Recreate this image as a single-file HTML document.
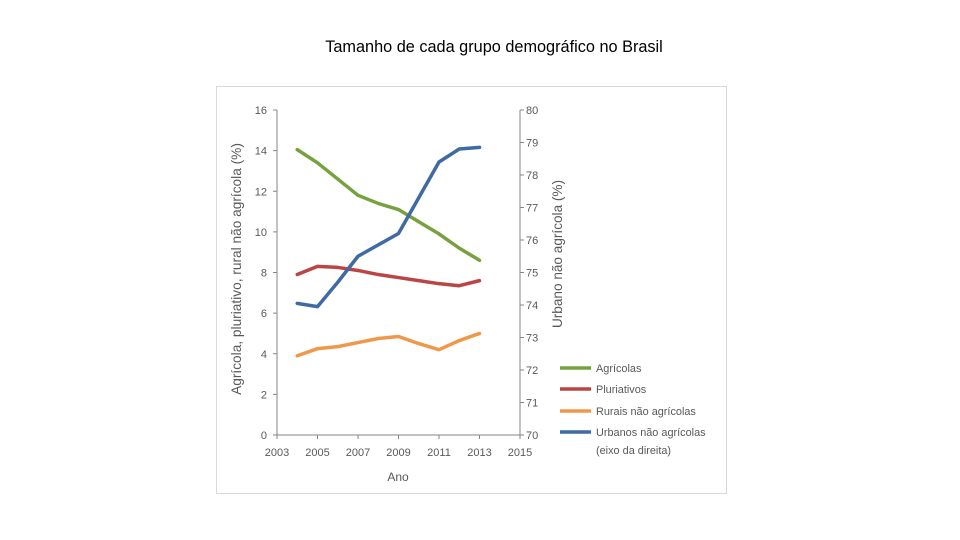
<!DOCTYPE html>
<html><head><meta charset="utf-8"><style>
body{margin:0;background:#fff;font-family:"Liberation Sans",sans-serif;}
#wrap{position:relative;width:960px;height:540px;}
#title{position:absolute;left:0;width:988px;top:38px;text-align:center;font-size:16.3px;color:#000;}
</style></head><body>
<div id="wrap">
<div id="title">Tamanho de cada grupo demográfico no Brasil</div>
<svg id="chart" width="960" height="540" style="position:absolute;left:0;top:0">
<rect x="216.5" y="86.5" width="510" height="407" fill="none" stroke="#d9d9d9"/>
<g id="g"></g>
</svg>
</div>
<script>
const years=[2004,2005,2006,2007,2008,2009,2010,2011,2012,2013];
const agricolas=[14.05,13.4,12.6,11.8,11.4,11.1,10.5,9.9,9.2,8.6];
const pluriativos=[7.9,8.3,8.25,8.1,7.9,7.75,7.6,7.45,7.35,7.6];
const rurais=[3.9,4.25,4.35,4.55,4.75,4.85,4.5,4.2,4.65,5.0];
const urbanos=[74.05,73.95,74.7,75.5,75.85,76.2,77.3,78.4,78.8,78.85];
const xTicks=[2003,2005,2007,2009,2011,2013,2015];
const yLeftTicks=[0,2,4,6,8,10,12,14,16];
const yRightTicks=[70,71,72,73,74,75,76,77,78,79,80];
const legendLabels=["Agrícolas","Pluriativos","Rurais não agrícolas","Urbanos não agrícolas"];

const X0=277,X1=520,Y0=435,Y1=110;
const x=v=>X0+(v-2003)/(2015-2003)*(X1-X0);
const yl=v=>Y0-v/16*(Y0-Y1);
const yr=v=>Y0-(v-70)/10*(Y0-Y1);
const g=document.getElementById('g');
const NS='http://www.w3.org/2000/svg';
function mk(t,a,txt){const e=document.createElementNS(NS,t);for(const k in a)e.setAttribute(k,a[k]);if(txt!==undefined)e.textContent=txt;g.appendChild(e);return e;}
const tc='#595959',ac='#868686';
let e;
e=mk('line',{x1:X0,y1:Y1,x2:X0,y2:Y0,stroke:ac});


e=mk('line',{x1:X1,y1:Y1,x2:X1,y2:Y0,stroke:ac});


e=mk('line',{x1:X0,y1:Y0,x2:X1,y2:Y0,stroke:ac});


yLeftTicks.forEach(v=>{
 mk('line',{x1:X0-4,y1:yl(v),x2:X0,y2:yl(v),stroke:ac});
 e=mk('text',{x:X0-10,y:yl(v)+4,'text-anchor':'end','font-size':11,fill:tc},v);
 
 
});
yRightTicks.forEach(v=>{
 mk('line',{x1:X1,y1:yr(v),x2:X1+4,y2:yr(v),stroke:ac});
 e=mk('text',{x:X1+6,y:yr(v)+4,'font-size':11,fill:tc},v);
 
 
});
xTicks.forEach(v=>{
 mk('line',{x1:x(v),y1:Y0,x2:x(v),y2:Y0+4,stroke:ac});
 e=mk('text',{x:x(v),y:Y0+21,'text-anchor':'middle','font-size':11,fill:tc},v);
 
 
});
e=mk('text',{x:398,y:481,'text-anchor':'middle','font-size':12,fill:tc},'Ano');


e=mk('text',{x:0,y:0,transform:'translate(241,269) rotate(-90)','text-anchor':'middle','font-size':13.7,fill:tc},'Agrícola, pluriativo, rural não agrícola (%)');


e=mk('text',{x:0,y:0,transform:'translate(562,254) rotate(-90)','text-anchor':'middle','font-size':13.6,fill:tc},'Urbano não agrícola (%)');


const colors=['#77a03e','#bb4444','#f0984a','#3f6aa3'];
const series=[agricolas,pluriativos,rurais,urbanos];
const names=['line-agricolas','line-pluriativos','line-rurais','line-urbanos'];
series.forEach((s,i)=>{
 const ys=i===3?yr:yl;
 const pts=s.map((v,j)=>x(years[j])+','+ys(v)).join(' ');
 e=mk('polyline',{points:pts,fill:'none',stroke:colors[i],'stroke-width':3.5,'stroke-linejoin':'round','stroke-linecap':'round'});
 
 
});
const ly=[368,389,411,432];
legendLabels.forEach((l,i)=>{
 e=mk('line',{x1:560,y1:ly[i],x2:591,y2:ly[i],stroke:colors[i],'stroke-width':3.5});
 
 
 e=mk('text',{x:596,y:ly[i]+4,'font-size':10.9,fill:tc},l);
 
 
});
e=mk('text',{x:596,y:454,'font-size':10.9,fill:tc},'(eixo da direita)');


</script>
</body></html>
